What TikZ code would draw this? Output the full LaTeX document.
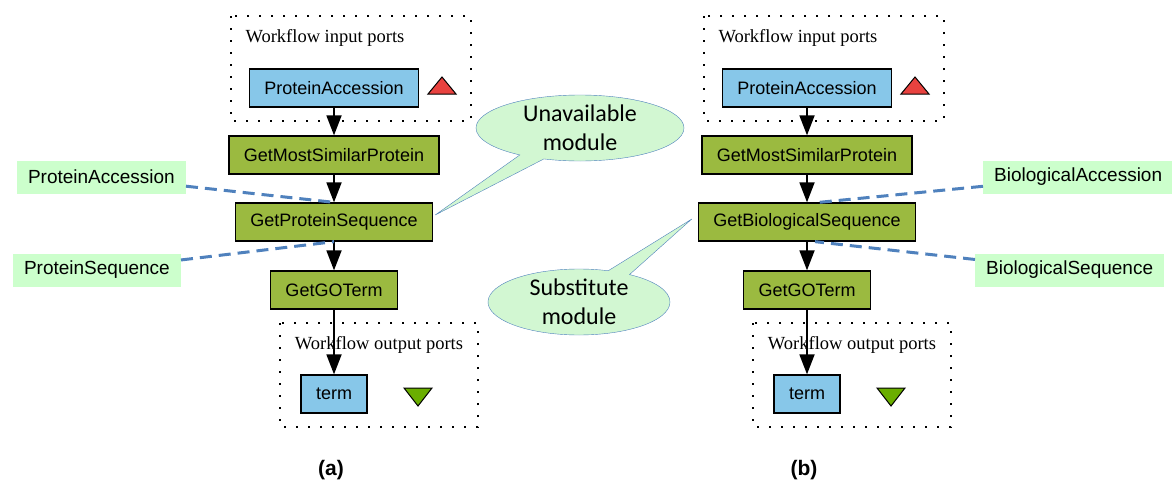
\documentclass[tikz,border=0pt]{standalone}
\usepackage{fontspec}
\usetikzlibrary{arrows.meta, shapes.callouts}
\newfontfamily\boxfont{Liberation Sans}
\newfontfamily\portfont{Liberation Serif}
\newfontfamily\callfont{Carlito}
\definecolor{portblue}{HTML}{87C7E9}
\definecolor{procgreen}{HTML}{9BBA40}
\definecolor{tagfill}{HTML}{CCFFCC}
\definecolor{callfill}{HTML}{D2F7D2}
\definecolor{linkblue}{HTML}{4F81BD}
\definecolor{inred}{HTML}{E8423F}
\definecolor{outgreen}{HTML}{6AAE00}
\begin{document}
\begin{tikzpicture}[x=1pt, y=-1pt,
    proc/.style={draw, line width=1.3pt, fill=procgreen, inner xsep=15pt, minimum height=38pt,
        font=\boxfont\fontsize{18}{20}\selectfont},
    port/.style={proc, fill=portblue},
    tag/.style={fill=tagfill, inner xsep=11pt, minimum height=33pt, font=\boxfont\fontsize{19}{21}\selectfont},
    link/.style={linkblue, line width=3pt, dash pattern=on 12pt off 7pt},
    flow/.style={line width=1.8pt, -{Triangle[width=15pt,length=20pt]}},
    portframe/.style={line width=2.4pt, dash pattern=on 2.4pt off 9.6pt},
    porttitle/.style={font=\portfont\fontsize{18.5}{20}\selectfont},
    bubble/.style={ellipse callout, draw=linkblue, fill=callfill, inner sep=0pt, minimum height=66pt,
        align=center, font=\callfont\fontsize{24}{29}\selectfont},
    caption/.style={font=\boxfont\bfseries\fontsize{21}{23}\selectfont}]
    \useasboundingbox (0,0) rectangle (1172,488);
        % port frames, triangles and captions of both panels
        \foreach \p/\dx in {a/0, b/473} {
            \draw[portframe] (231+\dx,16) rectangle (471+\dx,121);
            \draw[portframe] (280+\dx,323) rectangle (478+\dx,427);
            \node[porttitle] (in\p) at (325+\dx,38) {Workflow input ports};
            \node[porttitle] (out\p) at (379+\dx,345) {Workflow output ports};
            \draw[fill=inred, line width=1pt] (428+\dx,94) -- (456+\dx,94) -- (442+\dx,77) -- cycle;
            \draw[fill=outgreen, line width=1pt] (404+\dx,388) -- (432+\dx,388) -- (418+\dx,406) -- cycle;
            \node[caption] (cap\p) at (331+\dx,470) {(\p)};
        }

        \node[port] (accA) at (334,88) {ProteinAccession};
        \node[proc] (simA) at (334,155) {GetMostSimilarProtein};
        \node[proc] (seqA) at (334,222) {GetProteinSequence};
        \node[proc] (goA) at (334,290) {GetGOTerm};
        \node[port] (termA) at (334,394) {term};

        \node[port] (accB) at (807,88) {ProteinAccession};
        \node[proc] (simB) at (807,155) {GetMostSimilarProtein};
        \node[proc] (seqB) at (807,222) {GetBiologicalSequence};
        \node[proc] (goB) at (807,290) {GetGOTerm};
        \node[port] (termB) at (807,394) {term};

        \foreach \q in {A,B} {
            \draw[flow] (acc\q) -- (sim\q);
            \draw[flow] (sim\q) -- (seq\q);
            \draw[flow] (seq\q) -- (go\q);
            \draw[flow] (go\q) -- (term\q);
        }

        \node[tag, anchor=east] (tagAccA) at (186,177) {ProteinAccession};
        \node[tag, anchor=east] (tagSeqA) at (181,270) {ProteinSequence};
        \node[tag, anchor=west] (tagAccB) at (983,177) {BiologicalAccession};
        \node[tag, anchor=west] (tagSeqB) at (975,270) {BiologicalSequence};
        \draw[link] (tagAccA) -- (seqA.north);
        \draw[link] (tagSeqA) -- (seqA.south);
        \draw[link] (tagAccB) -- ([xshift=12pt]seqB.north);
        \draw[link] (tagSeqB) -- ([xshift=8pt]seqB.south);

        \node[bubble, minimum width=208pt, callout absolute pointer={([xshift=2pt,yshift=7pt]seqA.east)}]
            (unavail) at (580,128) {Unavailable\\module};
        \node[bubble, minimum width=182pt, callout absolute pointer={([xshift=-6pt,yshift=3pt]seqB.west)}]
            (subst) at (579,302) {Substitute\\module};
    \end{tikzpicture}
\end{document}
